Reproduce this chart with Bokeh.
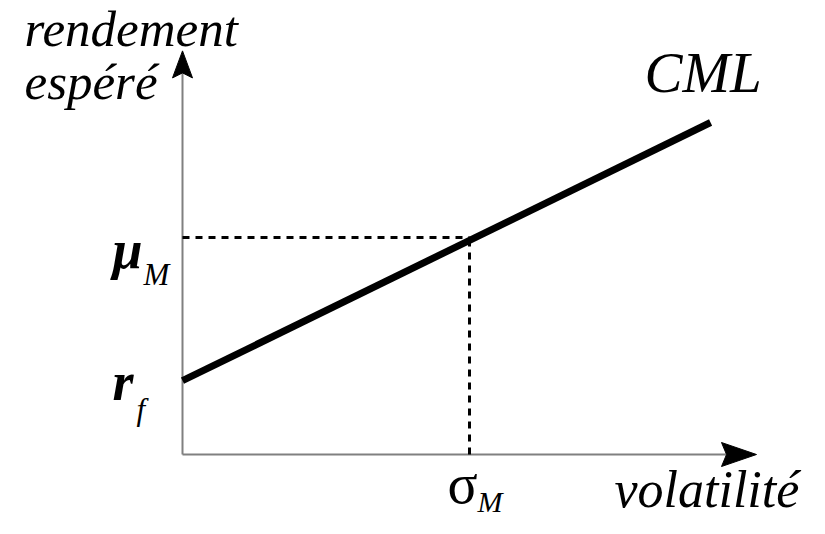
from bokeh.plotting import figure
from bokeh.models import Range1d, Label
from bokeh.embed import file_html
from bokeh.resources import INLINE

# ---- data (volatility, expected return) ----
cml_volatility = [0.0, 0.368]
cml_return = [0.034, 0.153]
sigma_M = 0.20
mu_M = 0.10
r_f = 0.034
axis_vol_max = 0.40     # tip of the volatility axis arrow
axis_ret_max = 0.186    # tip of the return axis arrow

# ---- layout ----
W, H = 809, 518
XS, YS = 1435.0, 2170.0     # pixels per unit
X0, Y0 = 182, 64            # origin inside canvas (from left, from bottom)
FONT = "Liberation Serif"
K = 0.35                    # baseline correction (fraction of font size)

p = figure(width=W, height=H, output_backend="svg", toolbar_location=None,
           x_range=Range1d(-X0 / XS, (W - X0) / XS),
           y_range=Range1d(-Y0 / YS, (H - Y0) / YS),
           min_border=0, min_border_left=0, min_border_right=0,
           min_border_top=0, min_border_bottom=0)
p.axis.visible = False
p.grid.visible = False
p.outline_line_color = None
p.background_fill_color = "white"
p.border_fill_color = "white"

# axes (grey lines with black arrowheads)
xa_len, xa_hw, notch = 35, 12, 5
ya_len, ya_hw = 27, 10
p.line([0, axis_vol_max - (xa_len - notch) / XS], [0, 0], line_color="#808080", line_width=2)
p.line([0, 0], [0, axis_ret_max - (ya_len - notch) / YS], line_color="#808080", line_width=2)
p.patch([axis_vol_max, axis_vol_max - xa_len / XS, axis_vol_max - (xa_len - notch) / XS, axis_vol_max - xa_len / XS],
        [0, xa_hw / YS, 0, -xa_hw / YS], fill_color="black", line_color="black", line_width=1)
p.patch([0, ya_hw / XS, 0, -ya_hw / XS],
        [axis_ret_max, axis_ret_max - ya_len / YS, axis_ret_max - (ya_len - notch) / YS, axis_ret_max - ya_len / YS],
        fill_color="black", line_color="black", line_width=1)

# dotted guides
p.line([0, sigma_M], [mu_M, mu_M], line_color="black", line_width=3, line_dash="7 6")
p.line([sigma_M, sigma_M], [0, mu_M], line_color="black", line_width=3, line_dash="7 6")

# capital market line
p.line(cml_volatility, cml_return, line_color="black", line_width=7, line_cap="butt")


def slab(text, sx, sy, size, style="italic"):
    """label placed at a canvas-pixel position (left, baseline; y from top)."""
    p.add_layout(Label(x=sx, y=H - sy + K * size, x_units="screen", y_units="screen",
                       text=text, text_font=FONT, text_font_style=style,
                       text_font_size=f"{size}px", text_color="black",
                       text_align="left", text_baseline="alphabetic"))


def dlab(text, x, y, dx, dy, size, style="italic"):
    """label anchored at a data point with pixel offsets (dy positive = down)."""
    p.add_layout(Label(x=x, y=y, x_offset=dx, y_offset=-dy + K * size,
                       text=text, text_font=FONT, text_font_style=style,
                       text_font_size=f"{size}px", text_color="black",
                       text_align="left", text_baseline="alphabetic"))


slab("rendement", 24, 46, 51)
slab("espéré", 24, 99, 51)
slab("CML", 644, 92, 57)
slab("volatilité", 614, 507, 52)

dlab("μ", 0, mu_M, -70, 31, 54, "bold italic")
dlab("M", 0, mu_M, -39, 48, 31)
dlab("r", 0, r_f, -70, 20, 54, "bold italic")
dlab("f", 0, r_f, -46, 40, 31)
dlab("σ", sigma_M, 0, -22, 49, 56, "normal")
dlab("M", sigma_M, 0, 8, 57, 30)

with open("out.html", "w", encoding="utf-8") as fh:
    fh.write(file_html(p, INLINE))
